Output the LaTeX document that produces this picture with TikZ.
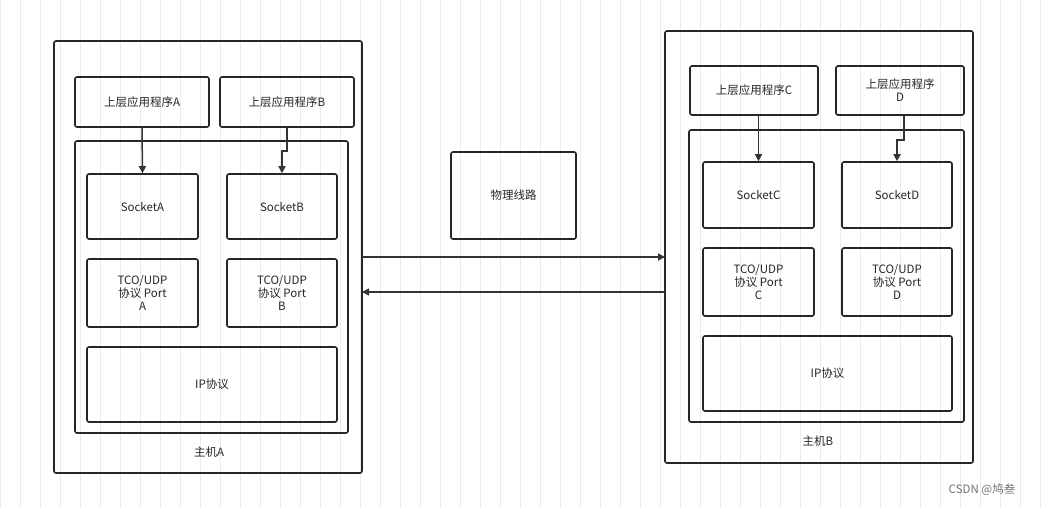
\documentclass[tikz,border=0pt]{standalone}
\usepackage{fontspec}
\setmainfont{Noto Sans CJK SC}
\usetikzlibrary{arrows.meta}
\begin{document}
\begin{tikzpicture}[x=1pt,y=-1pt,
 bx/.style={draw=black!85,line width=1.6pt,rounded corners=2pt},
 lbl/.style={font=\fontsize{11.5}{13}\selectfont,align=center,text=black!85},
 arr/.style={draw=black!80,line width=1.5pt,-{Triangle[length=7pt,width=7pt]}}]
\useasboundingbox (0,0) rectangle (1053,508);
\fill[white] (0,0) rectangle (1053,508);
\draw[black!8,line width=0.6pt] (0,0) grid[step=20] (1053,508);
% host A
\draw[bx] (54,41) rectangle (362,473);
\draw[bx] (75,141) rectangle (348,433);
\node[bx,lbl,minimum width=134pt,minimum height=50pt] (appA) at (142,102) {上层应用程序A};
\node[bx,lbl,minimum width=134pt,minimum height=50pt] (appB) at (287,102) {上层应用程序B};
\node[bx,lbl,minimum width=111pt,minimum height=65pt] (sA) at (142.5,206.5) {SocketA};
\node[bx,lbl,minimum width=110pt,minimum height=65pt] (sB) at (282,206.5) {SocketB};
\node[bx,lbl,minimum width=111pt,minimum height=68pt] (tA) at (142.5,293) {TCO/UDP\\协议 Port\\A};
\node[bx,lbl,minimum width=110pt,minimum height=68pt] (tB) at (282,293) {TCO/UDP\\协议 Port\\B};
\node[bx,lbl,minimum width=250pt,minimum height=75pt] (ipA) at (212,384.5) {IP协议};
\node[lbl] (hA) at (209,452) {主机A};
% host B
\draw[bx] (665,31) rectangle (973,463);
\draw[bx] (689,130) rectangle (964,422);
\node[bx,lbl,minimum width=128pt,minimum height=49pt] (appC) at (754,90.5) {上层应用程序C};
\node[bx,lbl,minimum width=128pt,minimum height=49pt,text width=118pt] (appD) at (900,90.5) {上层应用程序\\D};
\node[bx,lbl,minimum width=111pt,minimum height=66pt] (sC) at (758.5,195) {SocketC};
\node[bx,lbl,minimum width=110pt,minimum height=66pt] (sD) at (897,195) {SocketD};
\node[bx,lbl,minimum width=111pt,minimum height=68pt] (tC) at (758.5,282) {TCO/UDP\\协议 Port\\C};
\node[bx,lbl,minimum width=110pt,minimum height=68pt] (tD) at (897,282) {TCO/UDP\\协议 Port\\D};
\node[bx,lbl,minimum width=249pt,minimum height=75pt] (ipB) at (827.5,373.5) {IP协议};
\node[lbl] (hB) at (818,441) {主机B};
% middle
\node[bx,lbl,minimum width=125pt,minimum height=87pt] (phy) at (513.5,195.5) {物理线路};
\coordinate (a1) at (362,257); \coordinate (b1) at (665,257);
\coordinate (a2) at (362,292); \coordinate (b2) at (665,292);
\draw[arr] (a1) -- (b1);
\draw[arr] (b2) -- (a2);
% app arrows
\draw[arr] (appA.south) -- (sA.north);
\draw[arr] (appB.south) -- ++(0,23) -| (sB.north);
\draw[arr] (appC.south -| sC.north) -- (sC.north);
\draw[arr] (904,115) -- (904,140) -| (sD.north);
\node[font=\fontsize{11.5}{13}\selectfont,text=black!55] (wm) at (982,490) {CSDN @鸠叁};
\end{tikzpicture}
\end{document}
